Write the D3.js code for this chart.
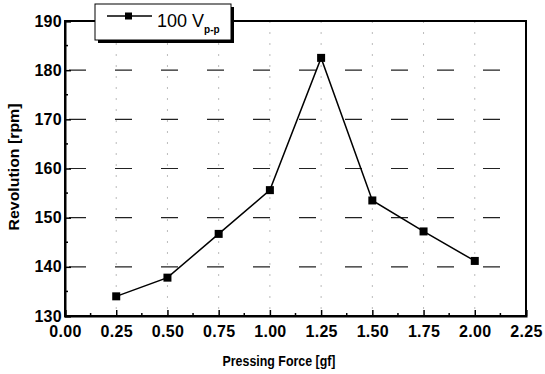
<!DOCTYPE html>
<html><head><meta charset="utf-8">
<script src="https://cdn.jsdelivr.net/npm/d3@7"></script>
<style>body{margin:0;background:#fff}text{font-family:"Liberation Sans",Arial,sans-serif;font-weight:bold}</style>
</head><body><svg id="c" width="545" height="374"></svg>
<script>
const force = [0.25,0.50,0.75,1.00,1.25,1.50,1.75,2.00];
const revolution = [134.0,137.8,146.7,155.6,182.5,153.5,147.2,141.2];
const xTicks = [0,0.25,0.5,0.75,1.0,1.25,1.5,1.75,2.0,2.25];
const yTicks = [130,140,150,160,170,180,190];
const seriesName = "100 V";
const seriesSub = "p-p";

const svg = d3.select("#c");
const L=65, R=526, T=21, B=316;
const x = d3.scaleLinear().domain([0,2.25]).range([L,R]);
const y = d3.scaleLinear().domain([130,190]).range([B,T]);

// grid
const g = svg.append("g");
g.selectAll(".hg").data(yTicks.filter(v=>v>130&&v<190)).enter().append("line")
 .attr("x1",L+4).attr("x2",R).attr("y1",d=>y(d)).attr("y2",d=>y(d))
 .attr("stroke","#222").attr("stroke-width",1.2).attr("stroke-dasharray","17,29");
g.selectAll(".vg").data(xTicks.filter(v=>v>0&&v<2.25)).enter().append("line")
 .attr("x1",d=>x(d)).attr("x2",d=>x(d)).attr("y1",T).attr("y2",B)
 .attr("stroke","#bbb").attr("stroke-width",1).attr("stroke-dasharray","2,9");

// frame
svg.append("rect").attr("x",L).attr("y",T).attr("width",R-L).attr("height",B-T)
 .attr("fill","none").attr("stroke","#000").attr("stroke-width",2);

// axes
const xAxis = d3.axisBottom(x).tickValues(xTicks).tickFormat(d3.format(".2f")).tickSize(-6).tickPadding(12);
const xa = svg.append("g").attr("transform",`translate(0,${B})`).call(xAxis);
const yAxis = d3.axisLeft(y).tickValues(yTicks).tickFormat(d3.format("d")).tickSize(-6).tickPadding(3);
const ya = svg.append("g").attr("transform",`translate(${L},0)`).call(yAxis);
[xa,ya].forEach(a=>{a.select(".domain").attr("stroke","#000").attr("stroke-width",2);
 a.selectAll(".tick line").attr("stroke","#000").attr("stroke-width",1.5);
 a.selectAll("text").attr("fill","#000").style("font-size","16px").style("letter-spacing","0.3px");});
xa.selectAll("text").attr("dy","0.55em");
// minor ticks
svg.append("g").selectAll("line").data(d3.range(0.125,2.25,0.25)).enter().append("line")
 .attr("x1",d=>x(d)).attr("x2",d=>x(d)).attr("y1",B).attr("y2",B-3).attr("stroke","#000").attr("stroke-width",1.5);
svg.append("g").selectAll("line").data(d3.range(135,190,10)).enter().append("line")
 .attr("x1",L).attr("x2",L+3).attr("y1",d=>y(d)).attr("y2",d=>y(d)).attr("stroke","#000").attr("stroke-width",1.5);

// titles
svg.append("text").attr("x",279).attr("y",366).attr("text-anchor","middle")
 .style("font-size","15px").attr("textLength",113).attr("lengthAdjust","spacingAndGlyphs").text("Pressing Force [gf]");
svg.append("text").attr("transform","translate(19,167) rotate(-90)").attr("text-anchor","middle")
 .style("font-size","15px").attr("textLength",127).attr("lengthAdjust","spacingAndGlyphs").text("Revolution [rpm]");

// series
const line = d3.line().x((d,i)=>x(force[i])).y(d=>y(d));
svg.append("path").datum(revolution).attr("d",line).attr("fill","none").attr("stroke","#000").attr("stroke-width",1.5);
const ms=8;
svg.selectAll(".m").data(revolution).enter().append("rect")
 .attr("x",(d,i)=>x(force[i])-ms/2).attr("y",d=>y(d)-ms/2).attr("width",ms).attr("height",ms).attr("fill","#000");

// legend
const lg = svg.append("g");
lg.append("rect").attr("x",98).attr("y",7).attr("width",136).attr("height",36).attr("fill","#000");
lg.append("rect").attr("x",95).attr("y",4).attr("width",136).attr("height",36).attr("fill","#fff").attr("stroke","#000").attr("stroke-width",1);
lg.append("line").attr("x1",107).attr("x2",152).attr("y1",16).attr("y2",16).attr("stroke","#000").attr("stroke-width",1.5);
lg.append("rect").attr("x",125).attr("y",12.5).attr("width",7).attr("height",7).attr("fill","#000");
const lt = lg.append("text").attr("x",157).attr("y",27).style("font-size","18px").style("font-weight","normal");
lt.append("tspan").text(seriesName);
lt.append("tspan").attr("dy",6).style("font-size","10px").style("font-weight","bold").text(seriesSub);
</script></body></html>
